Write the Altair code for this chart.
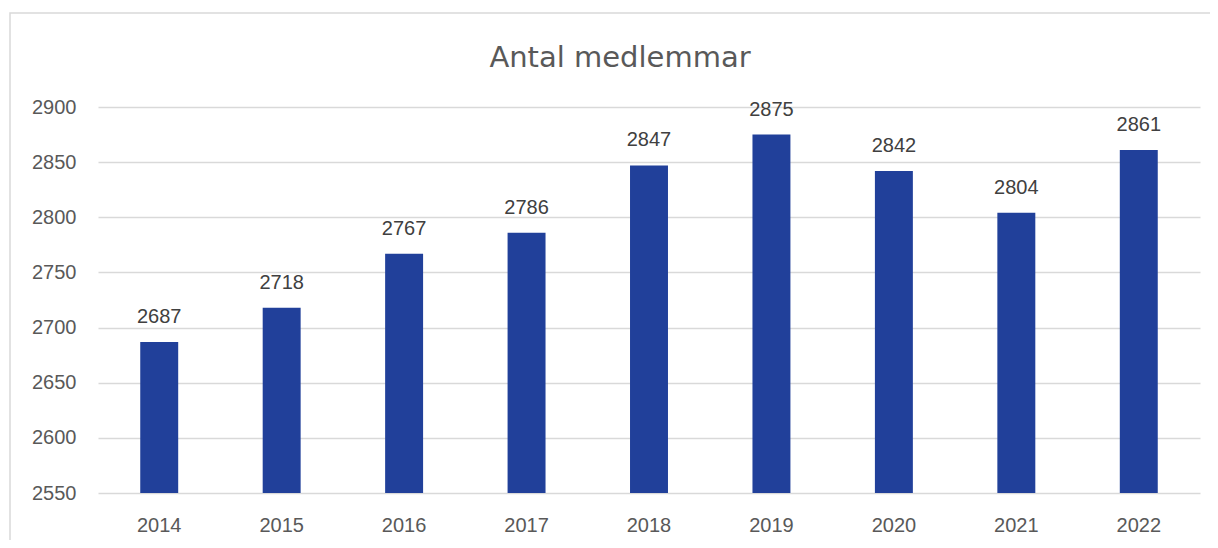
import altair as alt
import pandas as pd

years = ["2014", "2015", "2016", "2017", "2018", "2019", "2020", "2021", "2022"]
members = [2687, 2718, 2767, 2786, 2847, 2875, 2842, 2804, 2861]
y_ticks = [2550, 2600, 2650, 2700, 2750, 2800, 2850, 2900]
title_text = "Antal medlemmar"

df = pd.DataFrame({"year": years, "members": members})

W, H = 1102, 386
LABEL_FONT = "Liberation Sans"

x = alt.X("year:N", sort=years, title=None,
          scale=alt.Scale(paddingInner=0.69, paddingOuter=0.345),
          axis=alt.Axis(labelAngle=0, labelFont=LABEL_FONT, labelFontSize=20,
                        labelColor="#595959", labelPadding=22, ticks=False,
                        domain=False, grid=False))
y = alt.Y("members:Q", title=None,
          scale=alt.Scale(domain=[2550, 2900], zero=False, nice=False),
          axis=alt.Axis(values=y_ticks, format="d", labelFont=LABEL_FONT, labelFontSize=20,
                        labelColor="#595959", labelPadding=22, ticks=False,
                        domain=False, gridColor="#d9d9d9", gridWidth=1.3))

base = alt.Chart(df)

bars = base.mark_bar(color="#21409A", clip=True).encode(x=x, y=y)
labels = base.mark_text(baseline="bottom", dy=-15, font=LABEL_FONT, fontSize=20,
                        color="#404040").encode(x=x, y=y, text="members:Q")

border = alt.Chart(pd.DataFrame({"a": [0]})).mark_rect(
    fill=None, stroke="#d9d9d9", strokeWidth=1.5, clip=False
).encode(x=alt.value(-88), x2=alt.value(1300), y=alt.value(-94), y2=alt.value(700))

title = alt.Chart(pd.DataFrame({"t": [title_text]})).mark_text(
    font="DejaVu Sans", fontSize=29, color="#595959", baseline="alphabetic", align="center"
).encode(x=alt.value(522), y=alt.value(-40), text="t:N")

chart = alt.layer(border, bars, labels, title).properties(
    width=W, height=H,
    autosize=alt.AutoSizeParams(type="none"),
    padding={"left": 90, "top": 99, "right": 10, "bottom": 47},
).configure_view(stroke=None)

chart.save("out.html", embed_options={"renderer": "svg", "actions": False})
